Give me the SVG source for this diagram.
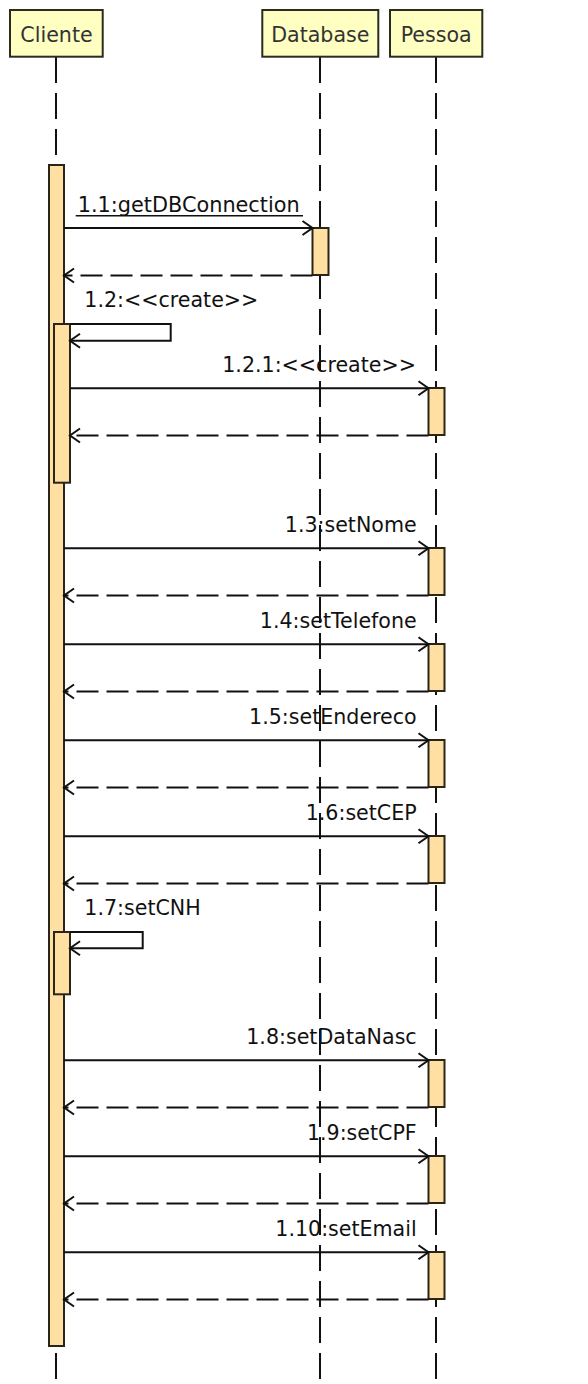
<svg xmlns="http://www.w3.org/2000/svg" width="588" height="1384" viewBox="0 0 588 1384">
<style>
.head{fill:#ffffc2;stroke:#2b2b1e;stroke-width:2}
.htxt{font-family:"DejaVu Sans",sans-serif;font-size:20.6px;fill:#333;text-anchor:middle}
.life{stroke:#111;stroke-width:2;stroke-dasharray:26,10;fill:none}
.act{fill:#ffe0a2;stroke:#2b2418;stroke-width:2}
.msg{stroke:#111;stroke-width:2;fill:none;marker-end:url(#open)}
.ret{stroke:#111;stroke-width:2;fill:none;stroke-dasharray:22,8;marker-end:url(#open)}
.lbl{font-family:"DejaVu Sans",sans-serif;font-size:20.6px;fill:#111}
.r{text-anchor:end}
</style>
<defs>
<marker id="open" markerUnits="userSpaceOnUse" viewBox="-12 -9 14 18" refX="0" refY="0" markerWidth="14" markerHeight="18" orient="auto">
<path d="M -10 -7 L 0 0 L -10 7" fill="none" stroke="#111" stroke-width="2"/>
</marker>
</defs>
<rect width="588" height="1384" fill="#fff"/>

<g id="lifelines">
<line class="life" x1="56" y1="57" x2="56" y2="1384"/>
<line class="life" x1="320" y1="57" x2="320" y2="1384"/>
<line class="life" x1="436" y1="57" x2="436" y2="1384"/>
</g>

<g id="Cliente">
<rect class="head" x="10" y="10" width="92.7" height="46.7"/>
<text class="htxt" x="56.5" y="42">Cliente</text>
<rect class="act" x="49" y="165" width="15" height="1181"/>
<rect class="act" x="54" y="324" width="16" height="158.7"/>
<rect class="act" x="54" y="932" width="16" height="62.3"/>
</g>

<g id="Database">
<rect class="head" x="262.3" y="10" width="116" height="46.7"/>
<text class="htxt" x="320.3" y="42">Database</text>
<rect class="act" x="312.5" y="228" width="16" height="47"/>
</g>

<g id="Pessoa">
<rect class="head" x="390" y="10" width="92.3" height="46.7"/>
<text class="htxt" x="436.2" y="42">Pessoa</text>
<rect class="act" x="428.5" y="388" width="16" height="47"/>
<rect class="act" x="428.5" y="548" width="16" height="47"/>
<rect class="act" x="428.5" y="644" width="16" height="47"/>
<rect class="act" x="428.5" y="740" width="16" height="47"/>
<rect class="act" x="428.5" y="836" width="16" height="47"/>
<rect class="act" x="428.5" y="1060" width="16" height="47"/>
<rect class="act" x="428.5" y="1156" width="16" height="47"/>
<rect class="act" x="428.5" y="1252" width="16" height="47"/>
</g>

<g id="connectors">
<path class="msg" d="M64 228 H312.5"/>
<path class="ret" d="M312.5 275.5 H64"/>
<path class="msg" d="M70 324 H170.7 V340.7 H70"/>
<path class="msg" d="M70 388.3 H428.5"/>
<path class="ret" d="M428.5 435.5 H70"/>
<path class="msg" d="M64 548.3 H428.5"/>
<path class="ret" d="M428.5 595.5 H64"/>
<path class="msg" d="M64 644.3 H428.5"/>
<path class="ret" d="M428.5 691.5 H64"/>
<path class="msg" d="M64 740.3 H428.5"/>
<path class="ret" d="M428.5 787.5 H64"/>
<path class="msg" d="M64 836.3 H428.5"/>
<path class="ret" d="M428.5 883.5 H64"/>
<path class="msg" d="M70 932 H142.7 V948.3 H70"/>
<path class="msg" d="M64 1060.3 H428.5"/>
<path class="ret" d="M428.5 1107.5 H64"/>
<path class="msg" d="M64 1156.3 H428.5"/>
<path class="ret" d="M428.5 1203.5 H64"/>
<path class="msg" d="M64 1252.3 H428.5"/>
<path class="ret" d="M428.5 1299.5 H64"/>

<text class="lbl" x="77.7" y="211.7" textLength="222" lengthAdjust="spacingAndGlyphs">1.1:getDBConnection</text>
<line x1="75.7" y1="215.7" x2="303" y2="215.7" stroke="#111" stroke-width="1.5"/>
<text class="lbl" x="84.3" y="306.7">1.2:&lt;&lt;create&gt;&gt;</text>
<text class="lbl r" x="416" y="371.7">1.2.1:&lt;&lt;create&gt;&gt;</text>
<text class="lbl r" x="416.7" y="531.7">1.3:setNome</text>
<text class="lbl r" x="416.7" y="627.7">1.4:setTelefone</text>
<text class="lbl r" x="416.7" y="723.7">1.5:setEndereco</text>
<text class="lbl r" x="416.7" y="819.7">1.6:setCEP</text>
<text class="lbl" x="84.3" y="915">1.7:setCNH</text>
<text class="lbl r" x="416.7" y="1043.7">1.8:setDataNasc</text>
<text class="lbl r" x="416.7" y="1139.7">1.9:setCPF</text>
<text class="lbl r" x="416.7" y="1235.7">1.10:setEmail</text>
</g>
</svg>
